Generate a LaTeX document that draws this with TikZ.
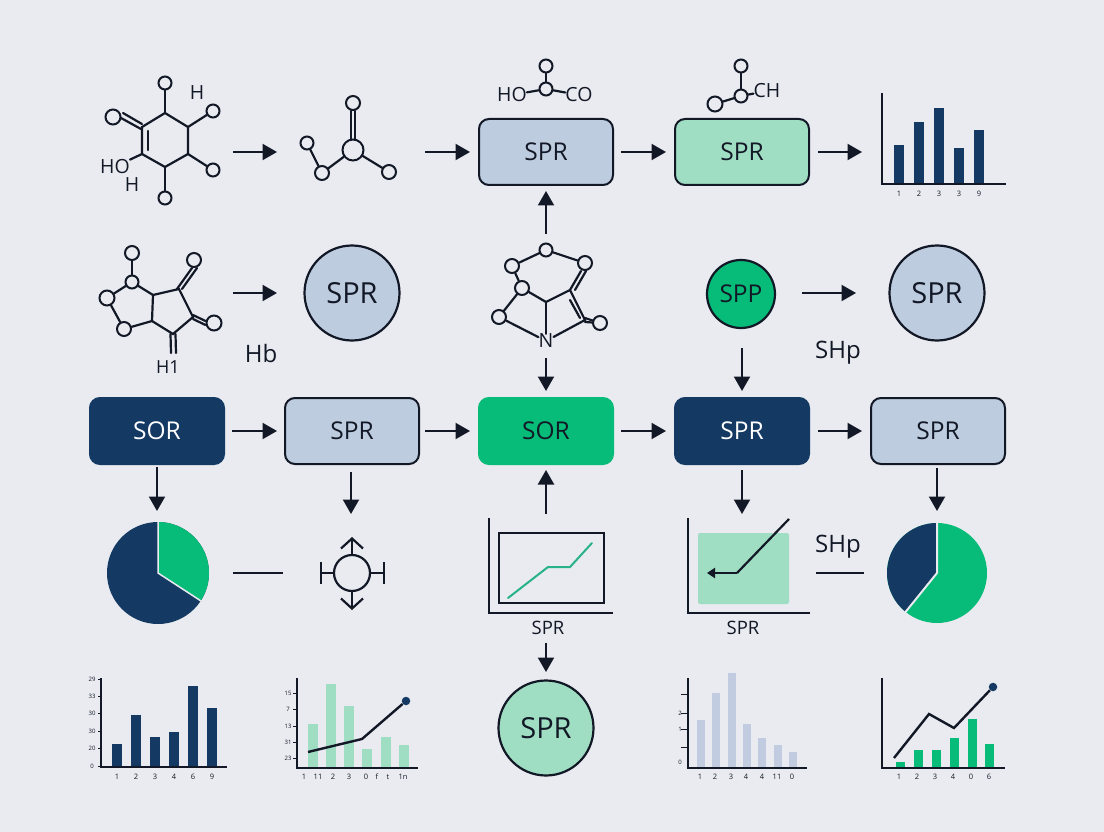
\documentclass[tikz,border=0pt]{standalone}
\usepackage{fontspec}
\setmainfont{Open Sans}
\usetikzlibrary{arrows.meta}
\definecolor{PageBand}{RGB}{233,235,240}
\definecolor{InkDark}{RGB}{18,24,38}
\definecolor{NavyFill}{RGB}{20,58,100}
\definecolor{SlateFill}{RGB}{189,204,223}
\definecolor{SlateBar}{RGB}{193,204,224}
\definecolor{MintFill}{RGB}{160,222,195}
\definecolor{GreenFill}{RGB}{6,188,120}
\definecolor{GreenLine}{RGB}{40,178,135}
\tikzset{
  flow/.style={-{Triangle[length=14.5pt,width=16pt]},line width=2.2pt,draw=InkDark},
  plainline/.style={line width=2pt,draw=InkDark},
  bond/.style={line width=2.2pt,draw=InkDark,line cap=round},
  atom/.style={circle,draw=InkDark,line width=2pt,inner sep=0pt,minimum size=13pt},
  bigatom/.style={atom,minimum size=15pt},
  chemtext/.style={font=\fontsize{19.5pt}{22pt}\selectfont,text=InkDark,inner sep=0pt},
  spbox/.style={draw=InkDark,line width=2pt,rounded corners=10pt,minimum width=134pt,minimum height=66pt,
    font=\fontsize{24.5pt}{28pt}\selectfont,text=InkDark,inner sep=0pt},
  slatebox/.style={spbox,fill=SlateFill},
  mintbox/.style={spbox,fill=MintFill},
  navybox/.style={spbox,fill=NavyFill,draw=NavyFill,text=white},
  greenbox/.style={spbox,fill=GreenFill,draw=GreenFill},
  spcirc/.style={circle,draw=InkDark,line width=2.2pt,inner sep=0pt,minimum size=95pt,
    font=\fontsize{29pt}{32pt}\selectfont,text=InkDark},
  axis/.style={line width=2.2pt,draw=InkDark},
  ticklabel/.style={font=\fontsize{7.5pt}{9pt}\selectfont,text=InkDark,inner sep=0pt},
  tinylabel/.style={font=\fontsize{6pt}{7pt}\selectfont,text=InkDark,inner sep=0pt},
  tickmark/.style={line width=1pt,draw=InkDark},
  toplabel/.style={font=\fontsize{18.5pt}{21pt}\selectfont,text=InkDark,inner sep=0pt},
  sidelabel/.style={font=\fontsize{24pt}{27pt}\selectfont,text=InkDark,inner sep=0pt},
  trend/.style={line width=2.4pt,draw=InkDark},
  tipdot/.style={circle,fill=NavyFill,inner sep=0pt,minimum size=8.5pt},
  hubline/.style={line width=2.2pt,draw=InkDark}
}
\begin{document}
\begin{tikzpicture}[x=1pt,y=-1pt]
  \fill[PageBand] (0,0) rectangle (1104,832);
  \useasboundingbox (0,0) rectangle (1104,832);

  % top row boxes
  \node[slatebox] (boxa) at (546,152) {SPR};
  \node[mintbox] (boxb) at (742,152) {SPR};
  % middle row boxes
  \node[navybox] (sora) at (157,431) {SOR};
  \node[slatebox] (sprb) at (352,431) {SPR};
  \node[greenbox] (sorc) at (546,431) {SOR};
  \node[navybox] (sprd) at (742,431) {SPR};
  \node[slatebox] (spre) at (938,431) {SPR};
  % circles
  \node[spcirc,fill=SlateFill] (circa) at (352,293) {SPR};
  \node[spcirc,fill=GreenFill,minimum size=68pt,font=\fontsize{24.5pt}{28pt}\selectfont] (circb) at (741,294) {SPP};
  \node[spcirc,fill=SlateFill] (circc) at (937,293) {SPR};
  \node[spcirc,fill=MintFill] (circd) at (546,728) {SPR};
  \node[sidelabel] (hblabel) at (261,353) {Hb};
  \node[sidelabel] (shplabela) at (838,353) {SHp};
  \node[sidelabel] (shplabelb) at (838,547) {SHp};

  % first molecule
  \foreach \nm/\x/\y in {ra/165/113,rb/188/127,rc/188/154,rd/165/167,re/142/154,rf/142/127}
    \coordinate (\nm) at (\x,\y);
  \foreach \nm/\x/\y in {oa/165/83,ob/213/111,oc/213/170,od/165/198}
    \node[atom] (\nm) at (\x,\y) {};
  \node[bigatom] (oe) at (113,117) {};
  \coordinate (dbla) at (148,131);
  \coordinate (dblb) at (148,150);
  \coordinate (dblc) at (121,118);
  \coordinate (dbld) at (141,129);
  \coordinate (dble) at (123,113);
  \coordinate (dblf) at (142,124);
  \draw[bond] (ra) -- (rb) -- (rc) -- (rd) -- (re) -- (rf) -- cycle;
  \draw[bond] (dbla) -- (dblb);
  \draw[bond] (ra) -- (oa);
  \draw[bond] (rb) -- (ob);
  \draw[bond] (rc) -- (oc);
  \draw[bond] (rd) -- (od);
  \draw[bond] (dblc) -- (dbld);
  \draw[bond] (dble) -- (dblf);
  \node[chemtext] (hx) at (197,93) {H};
  \node[chemtext] (hoy) at (115,167) {HO};
  \node[chemtext] (hz) at (132,185) {H};
  \draw[bond] (re) -- (hoy.north east);

  % second molecule
  \node[atom,minimum size=21pt] (cena) at (353,150) {};
  \node[atom,minimum size=14pt] (topa) at (353,103) {};
  \node[atom] (lefa) at (307,143) {};
  \node[atom,minimum size=14pt] (lowa) at (322,173) {};
  \node[atom,minimum size=14pt] (riga) at (389,172) {};
  \draw[bond] ([xshift=-2pt]topa.south) -- ([xshift=-2pt]cena.north);
  \draw[bond] ([xshift=2pt]topa.south) -- ([xshift=2pt]cena.north);
  \draw[bond] (lefa) -- (lowa);
  \draw[bond] (lowa) -- (cena);
  \draw[bond] (cena) -- (riga);

  % molecules above the boxes
  \node[atom] (oba) at (546,89) {};
  \node[atom] (obb) at (546,66) {};
  \node[chemtext] (hob) at (512,95) {HO};
  \node[chemtext] (cob) at (579,95) {CO};
  \draw[bond] (oba) -- (obb);
  \draw[bond] (oba) -- (hob);
  \draw[bond] (oba) -- (cob);
  \node[atom] (oca) at (741,96) {};
  \node[atom] (ocb) at (741,66) {};
  \node[bigatom] (occ) at (715,104) {};
  \node[chemtext] (chc) at (767,91) {CH};
  \draw[bond] (oca) -- (ocb);
  \draw[bond] (oca) -- (occ);
  \draw[bond] (oca) -- (chc);

  % third molecule
  \foreach \nm/\x/\y in {sa/153/295,sb/179/289,sc/193/317,sd/173/334,se/152/321}
    \coordinate (\nm) at (\x,\y);
  \node[atom,minimum size=14pt] (ta) at (132,253) {};
  \node[atom] (tb) at (132,282) {};
  \node[bigatom] (tc) at (107,298) {};
  \node[atom,minimum size=14pt] (td) at (124,329) {};
  \node[atom,minimum size=14pt] (te) at (194,260) {};
  \node[bigatom] (tf) at (214,323) {};
  \draw[bond] (sa) -- (sb) -- (sc) -- (sd) -- (se) -- cycle;
  \draw[bond] (ta) -- (tb);
  \draw[bond] (tb) -- (tc);
  \draw[bond] (tc) -- (td);
  \draw[bond] (td) -- (se);
  \draw[bond] (tb) -- (sa);
  \draw[bond] ([xshift=-2pt]sb) -- ([xshift=-2pt]te.south);
  \draw[bond] ([xshift=3pt]sb) -- ([xshift=3pt]te.south);
  \draw[bond] ([yshift=-2pt]sc) -- ([yshift=-2pt]tf.west);
  \draw[bond] ([yshift=2pt]sc) -- ([yshift=2pt]tf.west);
  \node[chemtext,font=\fontsize{18pt}{21pt}\selectfont] (hone) at (168,367) {H1};
  \coordinate (hbonda) at (171,353);
  \coordinate (hbondb) at (176,353);
  \draw[bond] ([xshift=-2.5pt]sd) -- (hbonda);
  \draw[bond] ([xshift=2.5pt]sd) -- (hbondb);

  % fourth molecule
  \node[atom] (ua) at (546,250) {};
  \node[atom,minimum size=14pt] (ub) at (512,266) {};
  \node[atom,minimum size=14pt] (uc) at (585,263) {};
  \node[atom,minimum size=14pt] (ud) at (522,288) {};
  \node[atom,minimum size=14pt] (ue) at (499,317) {};
  \node[atom,minimum size=14pt] (uf) at (600,323) {};
  \coordinate (va) at (546,302);
  \coordinate (vb) at (570,290);
  \coordinate (vc) at (585,320);
  \coordinate (wa) at (570,300);
  \coordinate (wb) at (580,318);
  \node[chemtext] (ntext) at (546,341) {N};
  \draw[bond] (ua) -- (ub);
  \draw[bond] (ua) -- (uc);
  \draw[bond] (ub) -- (ud);
  \draw[bond] (ud) -- (ue);
  \draw[bond] (ud) -- (va);
  \draw[bond] (ue) -- (ntext);
  \draw[bond] (va) -- (ntext);
  \draw[bond] (va) -- (vb) -- (vc) -- (ntext);
  \draw[bond] (vb) -- ([xshift=-4pt]uc.south);
  \draw[bond] ([xshift=5pt]vb) -- ([xshift=1pt]uc.south);
  \draw[bond] (wa) -- (wb);
  \draw[bond] ([yshift=2pt]vc) -- (uf);
  \draw[bond] ([yshift=-2pt]vc) -- (uf);

  % small line chart in a frame
  \draw[axis] (489,518) -- (489,613) -- (613,613);
  \node[draw=InkDark,line width=2.2pt,minimum width=105pt,minimum height=70pt,inner sep=0pt] (framea) at (551.5,568) {};
  \draw[line width=2pt,draw=GreenLine,line cap=round] (508,598) -- (548,567) -- (570,567) -- (592,543);
  \node[toplabel] (spra) at (548,628) {SPR};

  % filled chart
  \draw[axis] (688,518) -- (688,613) -- (810,613);
  \node[fill=MintFill,rounded corners=2pt,minimum width=91pt,minimum height=71pt,inner sep=0pt] (greenrect) at (743.5,568.5) {};
  \coordinate (bendpt) at (737,573);
  \coordinate (bendtop) at (789,519);
  \coordinate (bendend) at (707,573);
  \draw[hubline] (bendtop) -- (bendpt);
  \draw[hubline,-{Triangle[length=8pt,width=10pt]}] (bendpt) -- (bendend);
  \node[toplabel] (sprc) at (743,628) {SPR};

  % pies
  \coordinate (piea) at (158,573);
  \coordinate (pieatop) at (158,522);
  \fill[NavyFill] (piea) circle[radius=51];
  \fill[GreenFill] (piea) -- (pieatop) arc[start angle=-90,end angle=33,radius=51] -- cycle;
  \coordinate (pieaend) at (201,601);
  \draw[line width=1.5pt,draw=PageBand] (pieatop) -- (piea) -- (pieaend);
  \coordinate (pieb) at (937,573);
  \coordinate (piebtop) at (937,523);
  \fill[GreenFill] (pieb) circle[radius=50];
  \fill[NavyFill] (pieb) -- (piebtop) arc[start angle=-90,end angle=-231,radius=50] -- cycle;
  \coordinate (piebend) at (905.5,612);
  \draw[line width=2pt,draw=PageBand] (piebtop) -- (pieb) -- (piebend);

  % hub symbol
  \node[circle,draw=InkDark,line width=2.2pt,inner sep=0pt,minimum size=36pt] (hub) at (352,573) {};
  \coordinate (hubn) at (352,537);
  \coordinate (hubs) at (352,610);
  \coordinate (hubw) at (320,573);
  \coordinate (hube) at (385,573);
  \draw[hubline,-{Straight Barb[length=10pt,width=22pt]}] (hub) -- (hubn);
  \draw[hubline,-{Straight Barb[length=10pt,width=22pt]}] (hub) -- (hubs);
  \draw[hubline,-{Bar[width=22pt]}] (hub) -- (hubw);
  \draw[hubline,-{Bar[width=22pt]}] (hub) -- (hube);
  \coordinate (stuba) at (233,573);
  \coordinate (stubb) at (283,573);
  \coordinate (stubc) at (816,573);
  \coordinate (stubd) at (864,573);
  \draw[plainline] (stuba) -- (stubb);
  \draw[plainline] (stubc) -- (stubd);

  % arrows
  \draw[flow] (233,152) -- (277,152);
  \draw[flow] (425,152) -- (470,152);
  \draw[flow] (621,152) -- (666,152);
  \draw[flow] (818,152) -- (862,152);
  \draw[flow] (233,293) -- (277,293);
  \draw[flow] (802,293) -- (856,293);
  \draw[flow] (546,234) -- (546,191);
  \draw[flow] (546,358) -- (546,391);
  \draw[flow] (742,348) -- (742,391);
  \draw[flow] (232,431) -- (277,431);
  \draw[flow] (425,431) -- (470,431);
  \draw[flow] (621,431) -- (666,431);
  \draw[flow] (818,431) -- (862,431);
  \draw[flow] (157,467) -- (157,511);
  \draw[flow] (351,472) -- (351,514);
  \draw[flow] (546,514) -- (546,470);
  \draw[flow] (742,470) -- (742,514);
  \draw[flow] (937,468) -- (937,511);
  \draw[flow] (546,643) -- (546,672);

  % bar chart top right
  \foreach \x/\t in {899/145,919/122,939/108,959/148,979/130}
    \fill[NavyFill] (\x-4.75,\t) rectangle (\x+4.75,184);
  \draw[axis] (882,93) -- (882,184) -- (1006,184);
  \foreach \x/\l in {899/1,919/2,939/3,959/3,979/9}
    \node[ticklabel] at (\x,194) {\l};

  % bar chart bottom a
  \foreach \x/\t in {117/744,136/715,155/737,174/732,193/686,212/708}
    \fill[NavyFill] (\x-4.75,\t) rectangle (\x+4.75,767);
  \draw[axis] (101,678) -- (101,767) -- (227,767);
  \foreach \x/\l in {117/1,136/2,155/3,174/4,193/6,212/9}
    \node[ticklabel] at (\x,777) {\l};
  \foreach \y/\l in {766/0,748/20,731/30,713/30,696/33,679/29}{
    \node[tinylabel] at (92,\y) {\l};
    \draw[tickmark] (98,\y) -- (101,\y);
  }

  % bar chart bottom b
  \foreach \x/\t in {313/724,331/684,349/706,367/749,386/737,404/745}
    \fill[MintFill] (\x-4.75,\t) rectangle (\x+4.75,768);
  \draw[axis] (297,678) -- (297,768) -- (418,768);
  \node[tipdot] (dota) at (406,701) {};
  \coordinate (trenda) at (308,752);
  \coordinate (trendb) at (362,739);
  \draw[trend] (trenda) -- (trendb) -- (dota);
  \foreach \x/\l in {304/1,318/11,333/2,349/3,366/0,377/f,388/t,403/1n}
    \node[ticklabel] at (\x,777) {\l};
  \foreach \y/\l in {693/15,709/7,726/13,742/31,758/23}{
    \node[tinylabel] at (288,\y) {\l};
    \draw[tickmark] (293,\y) -- (297,\y);
  }

  % bar chart bottom c
  \foreach \x/\t in {701/720,716/693,732/673,747/724,762/738,778/745,793/752}
    \fill[SlateBar] (\x-4,\t) rectangle (\x+4,768);
  \draw[axis] (688,678) -- (688,768) -- (807,768);
  \foreach \x/\l in {700/1,715/2,731/3,746/4,762/4,777/11,792/0}
    \node[ticklabel] at (\x,777) {\l};
  \foreach \y in {694,713,729,747}
    \draw[tickmark] (681,\y) -- (688,\y);
  \foreach \y/\l in {713/2,729/1,762/0}
    \node[tinylabel] at (680,\y) {\l};

  % bar chart bottom d
  \foreach \x/\t in {900/762,918/750,936/750,954/738,972/719,989/744}
    \fill[GreenFill] (\x-4.5,\t) rectangle (\x+4.5,768);
  \draw[axis] (882,678) -- (882,768) -- (1005,768);
  \node[tipdot] (dotb) at (993,687) {};
  \coordinate (trendc) at (894,758);
  \coordinate (trendd) at (929,714);
  \coordinate (trende) at (954,728);
  \draw[trend] (trendc) -- (trendd) -- (trende) -- (dotb);
  \foreach \x/\l in {899/1,917/2,935/3,953/4,971/0,989/6}
    \node[ticklabel] at (\x,777) {\l};
\end{tikzpicture}
\end{document}
